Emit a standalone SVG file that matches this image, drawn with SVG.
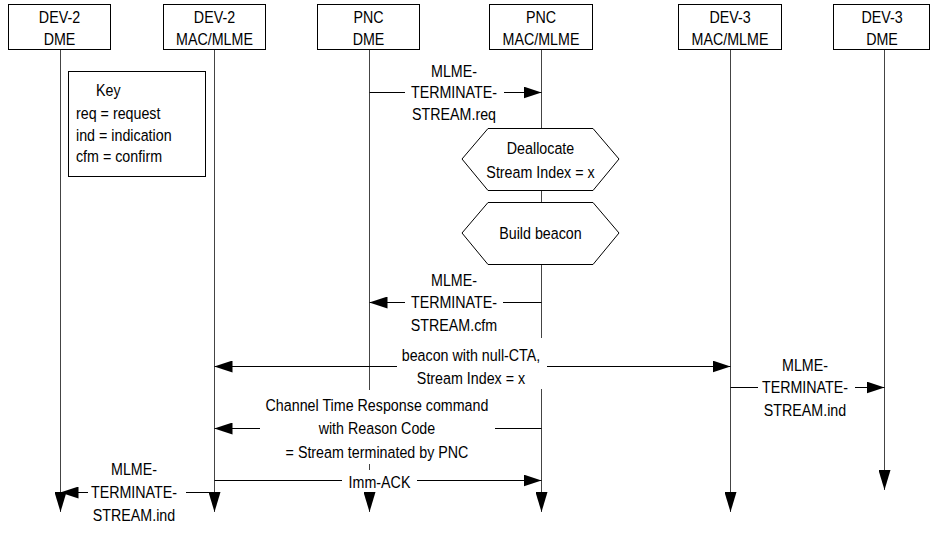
<svg xmlns="http://www.w3.org/2000/svg" width="930" height="533" viewBox="0 0 930 533">
<style>
text{font-family:"Liberation Sans","Arial",sans-serif;font-size:17px;fill:#000;dominant-baseline:central;text-anchor:middle;transform-box:fill-box;transform-origin:center;transform:scaleX(0.84)}
.k{text-anchor:start;transform-origin:left center}
.box{fill:#fff;stroke:#000;stroke-width:1}
.life{stroke:#444;stroke-width:1;fill:none}
.msg{stroke:#000;stroke-width:1;fill:none}
</style>
<defs>
<marker id="ah" markerUnits="userSpaceOnUse" markerWidth="18" markerHeight="12" refX="18" refY="6" orient="auto"><path d="M0,0L18,6L0,12z" fill="#000"/></marker>
<marker id="av" markerUnits="userSpaceOnUse" markerWidth="20" markerHeight="12" refX="20" refY="6" orient="auto"><path d="M0,0L20,6L0,12z" fill="#000"/></marker>
</defs>
<rect width="930" height="533" fill="#fff"/>
<g id="connectors">
<path class="life" d="M60.5,49.5V512" marker-end="url(#av)"/>
<path class="life" d="M214.5,49.5V512" marker-end="url(#av)"/>
<path class="life" d="M369.5,49.5V390M369.5,464V470"/>
<path class="life" d="M369.5,497V512" marker-end="url(#av)"/>
<path class="life" d="M541.5,49.5V128M541.5,190V202M541.5,264V338"/>
<path class="life" d="M541.5,389V512" marker-end="url(#av)"/>
<path class="life" d="M730.5,49.5V512" marker-end="url(#av)"/>
<path class="life" d="M884.5,49.5V490" marker-end="url(#av)"/>
<path class="msg" d="M369.5,92.5H405"/>
<path class="msg" d="M504,92.5H541.5" marker-end="url(#ah)"/>
<path class="msg" d="M541.5,302.5H503"/>
<path class="msg" d="M405,302.5H369.5" marker-end="url(#ah)"/>
<path class="msg" d="M397,366.5H214.5" marker-end="url(#ah)"/>
<path class="msg" d="M547,366.5H730.5" marker-end="url(#ah)"/>
<path class="msg" d="M730.5,387.5H758"/>
<path class="msg" d="M855,387.5H884.5" marker-end="url(#ah)"/>
<path class="msg" d="M541.5,428.5H495"/>
<path class="msg" d="M260,428.5H214.5" marker-end="url(#ah)"/>
<path class="msg" d="M214.5,480.5H342"/>
<path class="msg" d="M417,480.5H541.5" marker-end="url(#ah)"/>
<path class="msg" d="M214.5,492.5H186"/>
<path class="msg" d="M88,492.5H60.5" marker-end="url(#ah)"/>
</g>
<g id="labels">
<text x="454" y="71">MLME-</text>
<text x="454" y="92.5">TERMINATE-</text>
<text x="454" y="114">STREAM.req</text>
<text x="454" y="280">MLME-</text>
<text x="454" y="302">TERMINATE-</text>
<text x="454" y="325">STREAM.cfm</text>
<text x="471" y="355">beacon with null-CTA,</text>
<text x="471" y="378">Stream Index = x</text>
<text x="805" y="365">MLME-</text>
<text x="805" y="387">TERMINATE-</text>
<text x="805" y="410">STREAM.ind</text>
<text x="377" y="405">Channel Time Response command</text>
<text x="377" y="428">with Reason Code</text>
<text x="377" y="452">= Stream terminated by PNC</text>
<text x="379.5" y="482">Imm-ACK</text>
<text x="134" y="469">MLME-</text>
<text x="134" y="492">TERMINATE-</text>
<text x="134" y="515">STREAM.ind</text>
</g>
<g id="dev2-dme"><rect class="box" x="8.5" y="4.5" width="102" height="45"/><text x="59.5" y="17">DEV-2</text><text x="59.5" y="39">DME</text></g>
<g id="dev2-mac"><rect class="box" x="163.5" y="4.5" width="102" height="45"/><text x="214.5" y="17">DEV-2</text><text x="214.5" y="39">MAC/MLME</text></g>
<g id="pnc-dme"><rect class="box" x="317.5" y="4.5" width="102" height="45"/><text x="368.5" y="17">PNC</text><text x="368.5" y="39">DME</text></g>
<g id="pnc-mac"><rect class="box" x="489.5" y="4.5" width="103" height="45"/><text x="541" y="17">PNC</text><text x="541" y="39">MAC/MLME</text></g>
<g id="dev3-mac"><rect class="box" x="678.5" y="4.5" width="103" height="45"/><text x="730" y="17">DEV-3</text><text x="730" y="39">MAC/MLME</text></g>
<g id="dev3-dme"><rect class="box" x="833.5" y="4.5" width="96" height="45"/><text x="882" y="17">DEV-3</text><text x="882" y="39">DME</text></g>
<g id="key"><rect class="box" x="68.5" y="71.5" width="137" height="105"/><text class="k" x="96" y="90.5">Key</text><text class="k" x="76" y="112.8">req = request</text><text class="k" x="76" y="134.8">ind  = indication</text><text class="k" x="76" y="156.5">cfm = confirm</text></g>
<g id="dealloc"><polygon class="box" points="462,159 488,128.5 593,128.5 619,159 593,190.5 488,190.5"/><text x="540.5" y="148">Deallocate</text><text x="540.5" y="172">Stream Index = x</text></g>
<g id="build"><polygon class="box" points="462,233 488,202.5 593,202.5 619,233 593,264.5 488,264.5"/><text x="540.5" y="233">Build beacon</text></g>
</svg>
